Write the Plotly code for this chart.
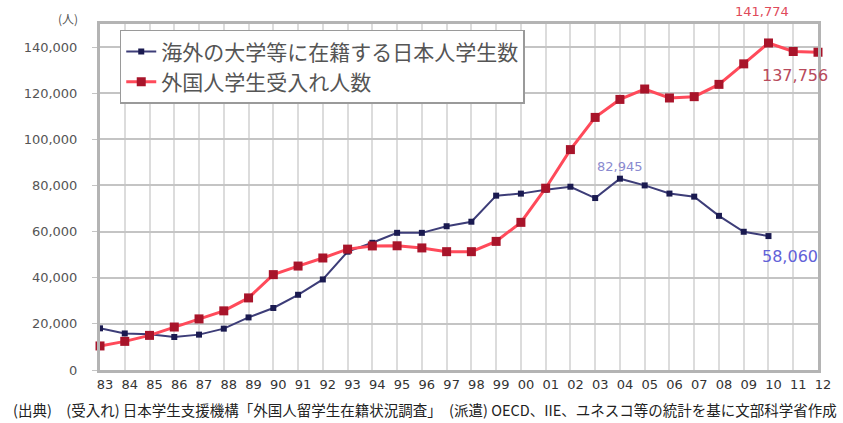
import plotly.graph_objects as go

# 年度 (1983–2012)
years = ["83", "84", "85", "86", "87", "88", "89", "90", "91", "92", "93", "94", "95",
         "96", "97", "98", "99", "00", "01", "02", "03", "04", "05", "06", "07", "08",
         "09", "10", "11", "12"]

# 海外の大学等に在籍する日本人学生数 (1983–2010)
outbound = [18066, 15846, 15485, 14297, 15335, 17926, 22798, 26893, 32609, 39258,
            51295, 55145, 59468, 59460, 62324, 64284, 75586, 76464, 78151, 79455,
            74551, 82945, 80023, 76492, 75156, 66833, 59923, 58060]

# 外国人学生受入れ人数 (1983–2012)
inbound = [10428, 12410, 15009, 18631, 22154, 25643, 31251, 41347, 45066, 48561,
           52405, 53787, 53847, 52921, 51298, 51298, 55755, 64011, 78812, 95550,
           109508, 117302, 121812, 117927, 118498, 123829, 132720, 141774, 138075,
           137756]

y_ticks = [0, 20000, 40000, 60000, 80000, 100000, 120000, 140000]
y_tick_text = ["0", "20,000", "40,000", "60,000", "80,000", "100,000", "120,000", "140,000"]

name_out = "海外の大学等に在籍する日本人学生数"
name_in = "外国人学生受入れ人数"
source = ("(出典)　(受入れ) 日本学生支援機構「外国人留学生在籍状況調査」　"
          "(派遣) OECD、IIE、ユネスコ等の統計を基に文部科学省作成")

# category positions as integer indices (avoids "04" being read as a number)
pos = list(range(len(years)))

fig = go.Figure()
fig.add_trace(go.Scatter(
    x=pos[:len(outbound)], y=outbound, name=name_out, mode="lines+markers",
    line=dict(color="#3d3d78", width=2),
    marker=dict(symbol="square", size=6, color="#1a1a50"),
    cliponaxis=False,
))
fig.add_trace(go.Scatter(
    x=pos, y=inbound, name=name_in, mode="lines+markers",
    line=dict(color="#ff4a5a", width=3),
    marker=dict(symbol="square", size=9, color="#a8142a"),
    cliponaxis=False,
))

i_peak_out = outbound.index(max(outbound))
i_peak_in = inbound.index(max(inbound))
fig.add_annotation(x=pos[i_peak_out], y=outbound[i_peak_out], text=f"{outbound[i_peak_out]:,}",
                   showarrow=False, yshift=12, font=dict(size=13, color="#8a8ad0",
                   family="DejaVu Sans"))
fig.add_annotation(x=pos[len(outbound) - 1], y=outbound[-1], text=f"{outbound[-1]:,}",
                   showarrow=False, xshift=22, yshift=-20, font=dict(size=16, color="#6262d8",
                   family="DejaVu Sans"))
fig.add_annotation(x=pos[i_peak_in], y=inbound[i_peak_in], text=f"{inbound[i_peak_in]:,}",
                   showarrow=False, yshift=31, xshift=-6, font=dict(size=13, color="#e04a5a",
                   family="DejaVu Sans"))
fig.add_annotation(x=pos[-1], y=inbound[-1], text=f"{inbound[-1]:,}",
                   showarrow=False, xshift=-23, yshift=-23, font=dict(size=16, color="#b84a5c",
                   family="DejaVu Sans"))

fig.add_annotation(text="(人)", xref="paper", yref="paper", x=-0.0275, y=1.0145,
                   xanchor="right", yanchor="middle", showarrow=False,
                   font=dict(size=12, color="#555555", family="Noto Sans CJK JP"))
fig.add_annotation(text=source, xref="paper", yref="paper", x=-0.124, y=-0.1156,
                   xanchor="left", yanchor="middle", showarrow=False,
                   font=dict(size=14.5, color="#222222", family="Noto Sans CJK JP"))

fig.update_layout(
    width=843, height=423,
    margin=dict(l=100, r=17, t=24, b=53),
    paper_bgcolor="white", plot_bgcolor="white",
    font=dict(family="Noto Sans CJK JP", color="#444444"),
    legend=dict(
        x=0.0275, y=0.983, xanchor="left", yanchor="top",
        bgcolor="white", bordercolor="#9a9a9a", borderwidth=1.5,
        font=dict(size=21, color="#555555", family="Noto Sans CJK JP"),
        itemwidth=30, tracegroupgap=0,
    ),
    showlegend=True,
)
fig.update_xaxes(
    type="linear", range=[0, len(years) - 1],
    tickvals=pos, ticktext=years,
    showgrid=True, gridcolor="#dcdcdc", gridwidth=2,
    showline=True, linecolor="#b4b4b4", linewidth=3, mirror=True,
    ticks="", tickfont=dict(size=13, color="#333333", family="DejaVu Sans"),
    ticklabelshift=5, zeroline=False,
)
fig.update_yaxes(
    range=[0, 150000], tickvals=y_ticks, ticktext=y_tick_text,
    showgrid=True, gridcolor="#c4c4c4", gridwidth=2,
    showline=True, linecolor="#b4b4b4", linewidth=3, mirror=True,
    ticks="outside", ticklen=5, tickcolor="#c4c4c4",
    tickfont=dict(size=13, color="#555555", family="DejaVu Sans"),
    ticklabelstandoff=12, zeroline=False,
)

fig.write_html("out.html")
